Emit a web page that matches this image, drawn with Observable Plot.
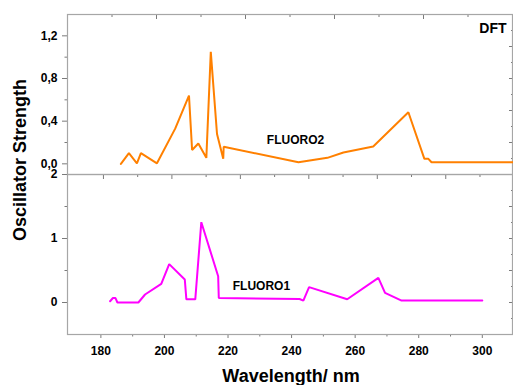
<!DOCTYPE html>
<html>
<head>
<meta charset="utf-8">
<script src="https://cdn.jsdelivr.net/npm/d3@7"></script>
<script src="https://cdn.jsdelivr.net/npm/@observablehq/plot@0.6"></script>
<style>
  body { margin: 0; background: #fff; }
  #chart { position: relative; width: 513px; height: 385px; overflow: hidden;
           font-family: "Liberation Sans", Arial, sans-serif; }
  #chart svg { position: absolute; left: 0; overflow: visible; }
</style>
</head>
<body>
<div id="chart"></div>
<script>
// ---- data ----
// FLUORO2 (top panel, its own wavelength axis 180–280)
const fluoro2Wavelength = [192.0, 193.8, 195.6, 196.5, 200.1, 204.2, 207.3, 208.0, 209.4, 211.2, 212.2, 213.6, 215.0, 215.1, 231.9, 238.4, 242.0, 248.7, 256.6, 260.2, 261.1, 261.8, 280.0];
const fluoro2Strength   = [0.0,   0.10,  0.005, 0.10,  0.005, 0.33,  0.64,  0.13,  0.19,  0.056, 1.05,  0.28,  0.047, 0.16,  0.015, 0.056, 0.106, 0.162, 0.484, 0.047, 0.047, 0.015, 0.015];
// FLUORO1 (bottom panel)
const fluoro1Wavelength = [182.9, 183.8, 184.6, 185.2, 191.8, 193.9, 199.0, 201.5, 206.4, 206.9, 209.7, 211.6, 216.9, 217.1, 242.5, 243.7, 245.5, 257.5, 267.3, 269.4, 274.6, 300.0];
const fluoro1Strength   = [0.02,  0.07,  0.07,  0.0,   0.0,   0.125, 0.29,  0.60,  0.36,  0.05,  0.05,  1.255, 0.41,  0.07,  0.055, 0.03,  0.24,  0.05,  0.385, 0.15,  0.03,  0.03];

// tick values
const topYTicks = [0, 0.4, 0.8, 1.2];
const topYMinor = [0.2, 0.6, 1.0];
const topRightMajor = [0.2, 0.5, 0.8, 1.1];
const topRightMinor = [0.05, 0.35, 0.65, 0.95, 1.25];
const topXMajor = [200, 220, 240, 260];
const topXMinor = [190, 210, 230, 250, 270];
const botYTicks = [0, 1, 2];
const botYMinor = [0.5, 1.5];
const botRightMajor = [0, 0.5, 1, 1.5];
const botRightMinor = [-0.25, 0.25, 0.75, 1.25, 1.75];
const botXTicks = [180, 200, 220, 240, 260, 280, 300];
const botXMinor = [190, 210, 230, 250, 270, 290];
const botTopMajor = [180, 200, 220, 240, 260, 280];   // secondary top axis (169.5–299.5)
const botTopMinor = [190, 210, 230, 250, 270, 290];

const seriesLabels = ["FLUORO2", "FLUORO1"];
const methodLabel = "DFT";
const yTitle = "Oscillator Strength";
const xTitle = "Wavelength/ nm";

// ---- build ----
const fluoro2 = fluoro2Wavelength.map((w, i) => ({w, s: fluoro2Strength[i]}));
const fluoro1 = fluoro1Wavelength.map((w, i) => ({w, s: fluoro1Strength[i]}));

const frameColor = "#a6a6a6";
const tickColor = "#7a7a7a";
const orange = "#ff8000";
const magenta = "#ff00ff";
const comma = d => d.toFixed(1).replace(".", ",");
const style = {fontFamily: "'Liberation Sans', Arial, sans-serif", fontSize: "12px", fontWeight: "bold",
               background: "transparent", overflow: "visible", color: "black"};

const botXDomain = [169.5, 309.5];
const secDomain = [169.5, 299.5];
const sec = s => botXDomain[0] + (s - secDomain[0]) * (botXDomain[1] - botXDomain[0]) / (secDomain[1] - secDomain[0]);

const topPlot = Plot.plot({
  width: 513, height: 174,
  marginLeft: 67, marginRight: 1, marginTop: 14, marginBottom: 0,
  x: {domain: [180, 280]},
  y: {domain: [-0.1, 1.4]},
  style,
  marks: [
    Plot.axisY({ticks: topYTicks, anchor: "left", tickSize: 5, tickPadding: 5, tickFormat: comma, stroke: tickColor, fill: "black", label: null}),
    Plot.axisY({ticks: topYMinor, anchor: "left", tickSize: 2.5, stroke: tickColor, fill: "none", label: null}),
    Plot.axisY({ticks: topRightMajor, anchor: "right", tickSize: 4, dx: -4, stroke: tickColor, fill: "none", label: null}),
    Plot.axisY({ticks: topRightMinor, anchor: "right", tickSize: 2, dx: -2, stroke: tickColor, fill: "none", label: null}),
    Plot.axisX({ticks: topXMajor, anchor: "top", tickSize: 4, dy: 4, stroke: tickColor, fill: "none", label: null}),
    Plot.axisX({ticks: topXMinor, anchor: "top", tickSize: 2, dy: 2, stroke: tickColor, fill: "none", label: null}),
    Plot.frame({stroke: frameColor, strokeWidth: 1.2}),
    Plot.line(fluoro2, {x: "w", y: "s", stroke: orange, strokeWidth: 2, strokeLinejoin: "miter"}),
    Plot.text([seriesLabels[0]], {x: 224.8, y: 0.22, text: d => d, textAnchor: "start", lineAnchor: "middle", fontSize: 12, fontWeight: "bold", fill: "black"}),
    Plot.text([methodLabel], {frameAnchor: "top-right", text: d => d, textAnchor: "end", lineAnchor: "middle", dx: -6, dy: 14, fontSize: 14, fontWeight: "bold", fill: "black"})
  ]
});
topPlot.style.top = "0px";

const botPlot = Plot.plot({
  width: 513, height: 211,
  marginLeft: 67, marginRight: 1, marginTop: 0, marginBottom: 51,
  x: {domain: botXDomain},
  y: {domain: [-0.5, 2]},
  style,
  marks: [
    Plot.axisY({ticks: botYTicks, anchor: "left", tickSize: 5, tickPadding: 5, tickFormat: d => String(d), stroke: tickColor, fill: "black", label: null}),
    Plot.axisY({ticks: botYMinor, anchor: "left", tickSize: 2.5, stroke: tickColor, fill: "none", label: null}),
    Plot.axisY({ticks: botRightMajor, anchor: "right", tickSize: 4, dx: -4, stroke: tickColor, fill: "none", label: null}),
    Plot.axisY({ticks: botRightMinor, anchor: "right", tickSize: 2, dx: -2, stroke: tickColor, fill: "none", label: null}),
    Plot.axisX({ticks: botXTicks, anchor: "bottom", tickSize: 4, tickPadding: 8, tickFormat: d => String(d), stroke: tickColor, fill: "black", label: null}),
    Plot.axisX({ticks: botXMinor, anchor: "bottom", tickSize: 2.5, stroke: tickColor, fill: "none", label: null}),
    Plot.axisX({ticks: botTopMajor.map(sec), anchor: "top", tickSize: 4, dy: 4, stroke: tickColor, fill: "none", label: null}),
    Plot.axisX({ticks: botTopMinor.map(sec), anchor: "top", tickSize: 2, dy: 2, stroke: tickColor, fill: "none", label: null}),
    Plot.frame({stroke: frameColor, strokeWidth: 1.2}),
    Plot.line(fluoro1, {x: "w", y: "s", stroke: magenta, strokeWidth: 2, strokeLinejoin: "miter"}),
    Plot.text([seriesLabels[1]], {x: 221.5, y: 0.25, text: d => d, textAnchor: "start", lineAnchor: "middle", fontSize: 12, fontWeight: "bold", fill: "black"})
  ]
});
botPlot.style.top = "174px";

const chart = document.getElementById("chart");
chart.appendChild(topPlot);
chart.appendChild(botPlot);

// axis titles
const overlay = d3.select(chart).append("svg")
  .attr("width", 513).attr("height", 385)
  .style("top", "0px")
  .style("font-family", "'Liberation Sans', Arial, sans-serif")
  .style("font-weight", "bold")
  .style("font-size", "18px");
overlay.append("text")
  .attr("transform", "translate(25.5,160) rotate(-90)")
  .attr("text-anchor", "middle")
  .text(yTitle);
overlay.append("text")
  .attr("x", 291).attr("y", 382)
  .attr("text-anchor", "middle")
  .text(xTitle);
</script>
</body>
</html>
